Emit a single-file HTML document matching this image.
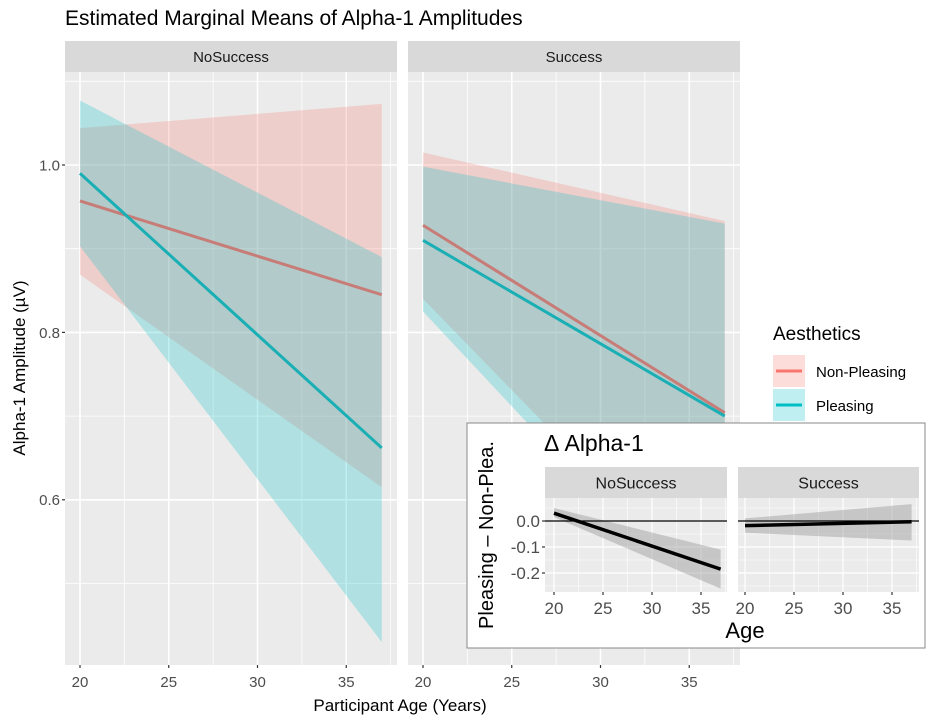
<!DOCTYPE html>
<html><head><meta charset="utf-8"><style>
body{margin:0;background:#fff;}
svg{display:block;font-family:"Liberation Sans",sans-serif;}
</style></head><body>
<svg id="chart" width="935" height="720">
<text x="65" y="25" font-size="21" fill="#000">Estimated Marginal Means of Alpha-1 Amplitudes</text>
<g id="main"></g>
<text x="400" y="711" font-size="17" text-anchor="middle" fill="#000">Participant Age (Years)</text>
<text transform="translate(25,368) rotate(-90)" font-size="17" text-anchor="middle" fill="#000">Alpha-1 Amplitude (µV)</text>
<g>
<text x="773" y="340" font-size="19">Aesthetics</text>
<g>
<rect x="773" y="355" width="32" height="32" fill="#F8766D" fill-opacity="0.25"/>
<line x1="776" x2="802" y1="371" y2="371" stroke="#F8766D" stroke-width="3"/>
<text x="816" y="377" font-size="15">Non-Pleasing</text></g>
<g>
<rect x="773" y="389" width="32" height="32" fill="#00BFC4" fill-opacity="0.25"/>
<line x1="776" x2="802" y1="405" y2="405" stroke="#00BFC4" stroke-width="3"/>
<text x="816" y="411" font-size="15">Pleasing</text></g>
</g>
<g id="inset"></g>
</svg>
<script>
const NS="http://www.w3.org/2000/svg";
const panels=["NoSuccess","Success"];
const xTicks=[20,25,30,35];
const yTicks=[0.6,0.8,1.0];
const yTickLabels=["0.6","0.8","1.0"];
const ageRange=[20,37];
// main estimates per panel [age20, age37]
const npFit=[[0.957,0.845],[0.928,0.704]];
const npLo=[[0.869,0.615],[0.840,0.470]];
const npHi=[[1.044,1.073],[1.015,0.933]];
const plFit=[[0.990,0.662],[0.910,0.700]];
const plLo=[[0.903,0.430],[0.825,0.440]];
const plHi=[[1.077,0.890],[0.998,0.930]];
// inset delta
const dTicks=[0,-0.1,-0.2];
const dTickLabels=["0.0","-0.1","-0.2"];
const dFit=[[0.030,-0.185],[-0.018,-0.003]];
const dLo=[[0.015,-0.260],[-0.045,-0.075]];
const dHi=[[0.050,-0.110],[0.010,0.065]];

function el(tag,attrs,parent){const e=document.createElementNS(NS,tag);for(const k in attrs)e.setAttribute(k,attrs[k]);parent.appendChild(e);return e;}

function facet(g,cfg){
  const px=cfg.px;
  panels.forEach((name,i)=>{
    const x0=px[i][0],x1=px[i][1];
    const xs=a=>cfg.x20[i]+(a-20)*cfg.kx;
    const ys=v=>cfg.yRef-(v-cfg.vRef)*cfg.ky;
    const strip=el('rect',{x:x0,y:cfg.sy0,width:x1-x0,height:cfg.sy1-cfg.sy0,fill:'#D9D9D9'},g);
    
    
    const st=el('text',{x:(x0+x1)/2,y:(cfg.sy0+cfg.sy1)/2+cfg.sfs*0.36,'font-size':cfg.sfs,'text-anchor':'middle',fill:'#1A1A1A'},g);st.textContent=name;
    
    
    const bg=el('rect',{x:x0,y:cfg.sy1,width:x1-x0,height:cfg.py1-cfg.sy1,fill:'#EBEBEB'},g);
    
    
    const clip=el('clipPath',{id:cfg.id+'c'+i},g);el('rect',{x:x0,y:cfg.sy1,width:x1-x0,height:cfg.py1-cfg.sy1},clip);
    const inner=el('g',{'clip-path':'url(#'+cfg.id+'c'+i+')'},g);
    cfg.minorY.forEach(v=>el('line',{x1:x0,x2:x1,y1:ys(v),y2:ys(v),stroke:'#fff','stroke-width':cfg.gw*0.5},inner));
    cfg.yT.forEach(v=>el('line',{x1:x0,x2:x1,y1:ys(v),y2:ys(v),stroke:'#fff','stroke-width':cfg.gw},inner));
    [17.5,22.5,27.5,32.5,37.5].forEach(a=>el('line',{x1:xs(a),x2:xs(a),y1:cfg.sy1,y2:cfg.py1,stroke:'#fff','stroke-width':cfg.gw*0.5},inner));
    xTicks.forEach(a=>el('line',{x1:xs(a),x2:xs(a),y1:cfg.sy1,y2:cfg.py1,stroke:'#fff','stroke-width':cfg.gw},inner));
    cfg.series.forEach(s=>{
      const [a0,a1]=ageRange;
      const r=el('polygon',{points:`${xs(a0)},${ys(s.hi[i][0])} ${xs(a1)},${ys(s.hi[i][1])} ${xs(a1)},${ys(s.lo[i][1])} ${xs(a0)},${ys(s.lo[i][0])}`,fill:s.fill,'fill-opacity':s.op},inner);
      
      
    });
    cfg.series.forEach(s=>{
      const [a0,a1]=ageRange;
      const l=el('line',{x1:xs(a0),y1:ys(s.fit[i][0]),x2:xs(a1),y2:ys(s.fit[i][1]),stroke:s.line,'stroke-width':s.w},inner);
      
      
    });
    if(cfg.hline){el('line',{x1:x0,x2:x1,y1:ys(0),y2:ys(0),stroke:'#000','stroke-width':1.2},inner);}
    xTicks.forEach(a=>{
      el('line',{x1:xs(a),x2:xs(a),y1:cfg.py1,y2:cfg.py1+3,stroke:'#333','stroke-width':1.2},g);
      const t=el('text',{x:xs(a),y:cfg.py1+cfg.tyOff,'font-size':cfg.fs,'text-anchor':'middle',fill:'#4D4D4D'},g);t.textContent=a;
      
      
    });
    if(i===0){
      cfg.yT.forEach((v,j)=>{
        el('line',{x1:x0-3,x2:x0,y1:ys(v),y2:ys(v),stroke:'#333','stroke-width':1.2},g);
        const t=el('text',{x:x0-5,y:ys(v)+cfg.fs*0.36,'font-size':cfg.fs,'text-anchor':'end',fill:'#4D4D4D'},g);t.textContent=cfg.yL[j];
        
        
      });
    }
  });
}
facet(document.getElementById('main'),{id:'m',px:[[65,397],[408,740]],sy0:41,sy1:72,py1:665,x20:[80,423],kx:17.75,yRef:165,vRef:1.0,ky:837,
  yT:yTicks,yL:yTickLabels,minorY:[0.5,0.7,0.9,1.1],gw:1.6,fs:15,sfs:15,tyOff:22,
  series:[{name:'non-pleasing',fit:npFit,lo:npLo,hi:npHi,fill:'#F8766D',op:0.25,line:'#C77C77',w:3},
          {name:'pleasing',fit:plFit,lo:plLo,hi:plHi,fill:'#00BFC4',op:0.25,line:'#1AAFB5',w:3}]});
const ig=document.getElementById('inset');
const box=el('rect',{x:467,y:423,width:458,height:225,fill:'#fff',stroke:'#888','stroke-width':1},ig);


const it=el('text',{x:544,y:451,'font-size':23,fill:'#000'},ig);it.textContent='Δ Alpha-1';


const iy=el('text',{transform:'translate(493,535) rotate(-90)','font-size':20,'text-anchor':'middle',fill:'#000'},ig);iy.textContent='Pleasing – Non-Plea.';


const ix=el('text',{x:745,y:638,'font-size':22,'text-anchor':'middle',fill:'#000'},ig);ix.textContent='Age';


facet(ig,{id:'i',px:[[545,727],[738,919]],sy0:467,sy1:498,py1:592,x20:[554,745],kx:9.8,yRef:521,vRef:0,ky:260,
  yT:dTicks,yL:dTickLabels,minorY:[0.05,-0.05,-0.15,-0.25],gw:1.2,fs:17,sfs:16,tyOff:22,hline:true,
  series:[{name:'delta',fit:dFit,lo:dLo,hi:dHi,fill:'#999',op:0.45,line:'#000',w:3.5}]});
</script>
</body></html>
